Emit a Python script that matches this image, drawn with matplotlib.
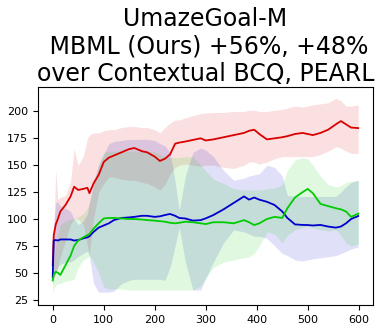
import matplotlib
matplotlib.use("Agg")
import matplotlib.pyplot as plt

x = [0, 2, 6, 10, 15, 25, 35, 42, 50, 60, 68, 72, 80, 90, 100, 110, 120, 135, 150, 160,
     175, 185, 200, 210, 220, 230, 240, 248, 260, 275, 290, 300, 315, 335, 355, 375, 385,
     395, 405, 420, 435, 450, 460, 475, 490, 500, 510, 525, 540, 555, 565, 575, 585, 599]

red_mean = [57, 85, 95, 100, 107, 113, 121, 130, 127, 128, 129, 124, 133, 141, 153, 157, 159, 162, 165, 166,
            163, 162, 158, 154, 156, 160, 170, 171, 172, 173.5, 175, 173, 174, 176, 178, 180, 182,
            183, 179, 174, 175, 176, 177, 179, 180, 179, 178, 180, 183, 188, 191, 188, 185, 184.5]
red_upper = [60, 90, 146, 118, 120, 122, 135, 165, 150, 158, 175, 178, 180, 180, 182, 183, 183, 185, 186, 186,
             185, 185, 183, 180, 185, 189, 192, 192, 194, 196, 198, 198.5, 199, 199, 200, 200, 201,
             201, 200, 200, 201, 202, 203, 205, 204, 205, 206, 207, 208, 212, 210, 205, 205, 206]
red_lower = [40, 45, 50, 55, 65, 80, 95, 100, 100, 95, 75, 68, 100, 125, 133, 139, 139, 137, 136, 136,
             134, 133, 130, 127, 132, 142, 148, 150, 151, 150, 149, 150, 150, 148, 147, 150, 153,
             153, 151, 153, 156, 158, 158, 158, 158, 158, 158, 160, 163, 167, 166, 163, 161, 161]

blue_mean = [46, 80, 80.5, 80, 81, 81, 81, 80, 80.5, 82, 83, 84, 88, 92, 94, 96, 99, 101, 101.5, 102,
             103, 103, 102, 102.5, 103.7, 104.7, 103, 101, 100.5, 98.5, 99, 100.6, 103.7, 109, 115, 121, 118,
             120, 118, 116, 113, 107, 101, 95, 94.5, 94.4, 94, 94.5, 93, 92, 93, 96, 100, 102.8]
blue_upper = [55, 95, 115, 116, 112, 110, 107, 100, 95, 98, 105, 115, 135, 150, 160, 170, 172, 173, 174, 174,
              174, 174, 173, 170, 168, 162, 135, 108, 140, 162, 166, 164, 158, 145, 136, 138, 140,
              141, 142, 150, 148, 140, 122, 121, 121, 121, 121, 121, 121, 121, 125, 130, 134, 136]
blue_lower = [38, 45, 50, 55, 58, 60, 60, 62, 65, 68, 70, 65, 40, 32, 32, 32, 33, 40, 43, 44,
              44, 44, 44, 44, 43, 55, 75, 92, 60, 34, 34, 45, 60, 78, 90, 88, 86,
              84, 84, 82, 75, 68, 66, 62, 61, 62, 63, 64, 65, 66, 68, 70, 72, 74]

green_mean = [43, 48, 51, 50, 48, 57, 66, 75, 80, 83, 85, 86, 91, 96, 100.5, 101, 101, 100.5, 100, 100,
              99.5, 99, 98.5, 98, 97.5, 96.5, 96, 96.5, 97.5, 97, 96, 95.3, 97, 97, 96, 99, 97,
              94.4, 96, 100, 102, 101, 110, 120, 125, 128, 124, 114, 112, 110, 109, 107, 102, 105]
green_upper = [48, 60, 75, 85, 95, 98, 100, 100, 102, 105, 110, 115, 130, 150, 162, 163, 163, 163, 163, 163,
               163, 163, 162, 160, 158, 157, 157, 157, 158, 158, 150, 145, 137, 133, 128, 127, 127,
               127, 127, 128, 129, 132, 145, 155, 157, 156, 150, 140, 132, 130, 131, 134, 135, 136]
green_lower = [30, 35, 38, 40, 40, 42, 43, 44, 55, 62, 64, 66, 60, 50, 37, 35, 35, 35, 34, 34,
               34, 34, 34, 34, 34, 34, 34, 34, 34, 34, 38, 45, 55, 60, 62, 64, 65,
               68, 75, 88, 86, 78, 85, 90, 92, 93, 92, 90, 89, 90, 85, 78, 75, 77]

title = "UmazeGoal-M\n MBML (Ours) +56%, +48%\nover Contextual BCQ, PEARL"

RED = (0.85, 0.0, 0.0)
GREEN = (0.0, 0.8, 0.0)
BLUE = (0.0, 0.0, 0.8)

fig = plt.figure(figsize=(3.83, 3.32), dpi=100)
ax = fig.add_axes([0.099, 0.081, 0.875, 0.657])

for lo, hi, c in [(red_lower, red_upper, RED), (blue_lower, blue_upper, BLUE), (green_lower, green_upper, GREEN)]:
    ax.fill_between(x, lo, hi, color=c, alpha=0.12, linewidth=0)

ax.plot(x, red_mean, color=RED, linewidth=1.3)
ax.plot(x, blue_mean, color=BLUE, linewidth=1.3)
ax.plot(x, green_mean, color=GREEN, linewidth=1.3)

ax.set_xlim(-29, 628)
ax.set_ylim(20, 222.7)
ax.set_xticks([0, 100, 200, 300, 400, 500, 600])
ax.set_yticks([25, 50, 75, 100, 125, 150, 175, 200])
ax.tick_params(labelsize=8, length=3.5, width=0.8)
for s in ax.spines.values():
    s.set_linewidth(0.8)

ax.set_title(title, fontsize=17, pad=4)

fig.savefig("out.png", dpi=100)
